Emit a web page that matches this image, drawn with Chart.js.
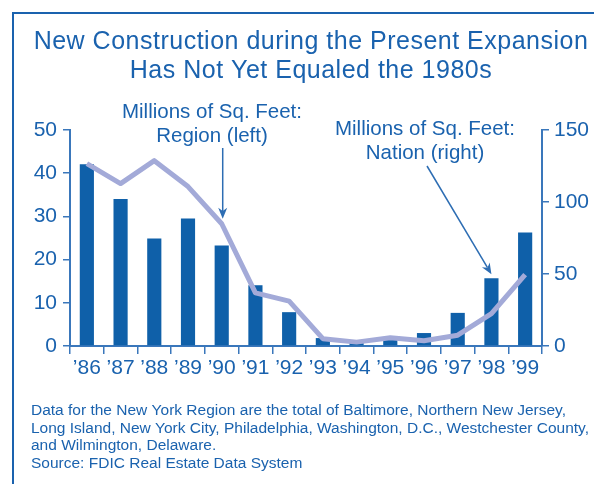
<!DOCTYPE html>
<html><head><meta charset="utf-8">
<script src="https://cdn.jsdelivr.net/npm/chart.js@4.4.1/dist/chart.umd.min.js"></script>
<style>html,body{margin:0;padding:0;background:#fff}#wrap{width:594px;height:484px;position:relative}</style>
</head><body><div id="wrap"><canvas id="c" width="594" height="484"></canvas></div>
<script>
const years = ["\u201986","\u201987","\u201988","\u201989","\u201990","\u201991","\u201992","\u201993","\u201994","\u201995","\u201996","\u201997","\u201998","\u201999"];
const regionLeft = [42.2, 37.6, 42.9, 36.9, 28.3, 12.3, 10.4, 1.7, 0.9, 1.9, 1.2, 2.5, 7.5, 16.5];
const nationRight = [126.3, 102.1, 74.6, 88.5, 69.8, 42.2, 23.5, 5.5, 2.6, 4.6, 9.0, 23.0, 47.0, 78.8];
const leftTickValues = [0, 10, 20, 30, 40, 50];
const rightTickValues = [0, 50, 100, 150];
const titleLines = ["New Construction during the Present Expansion", "Has Not Yet Equaled the 1980s"];
const regionLabel = ["Millions of Sq. Feet:", "Region (left)"];
const nationLabel = ["Millions of Sq. Feet:", "Nation (right)"];
const noteLines = [
  "Data for the New York Region are the total of Baltimore, Northern New Jersey,",
  "Long Island, New York City, Philadelphia, Washington, D.C., Westchester County,",
  "and Wilmington, Delaware.",
  "Source: FDIC Real Estate Data System"
];

const FONT = '"Liberation Sans", Arial, sans-serif';
const TEXT = '#1a62ae';
const AXIS = '#3a77bb';
const BAR = '#0f60a9';
const LINE = '#a3aad8';
const ARROW = '#2d6db3';

function arrow(ctx, x1, y1, x2, y2, color) {
  const a = Math.atan2(y2 - y1, x2 - x1);
  const L = 11, W = 4.5;
  ctx.strokeStyle = color; ctx.lineWidth = 1.5;
  ctx.beginPath(); ctx.moveTo(x1, y1);
  ctx.lineTo(x2 - L * 0.7 * Math.cos(a), y2 - L * 0.7 * Math.sin(a)); ctx.stroke();
  ctx.fillStyle = color;
  ctx.beginPath(); ctx.moveTo(x2, y2);
  ctx.lineTo(x2 - L * Math.cos(a) + W * Math.sin(a), y2 - L * Math.sin(a) - W * Math.cos(a));
  ctx.lineTo(x2 - L * 0.7 * Math.cos(a), y2 - L * 0.7 * Math.sin(a));
  ctx.lineTo(x2 - L * Math.cos(a) - W * Math.sin(a), y2 - L * Math.sin(a) + W * Math.cos(a));
  ctx.closePath(); ctx.fill();
}

const deco = {
  id: 'deco',
  afterDraw(chart) {
    const ctx = chart.ctx;
    const xs = chart.scales.x, yL = chart.scales.yL, yR = chart.scales.yR;
    ctx.save();
    // frame
    ctx.strokeStyle = '#1a62ae'; ctx.lineWidth = 2;
    ctx.beginPath(); ctx.moveTo(13, 484); ctx.lineTo(13, 13); ctx.lineTo(594, 13); ctx.stroke();
    // title
    ctx.fillStyle = TEXT; ctx.textAlign = 'center'; ctx.textBaseline = 'alphabetic';
    ctx.font = '25px ' + FONT;
    ctx.letterSpacing = '0.5px';
    titleLines.forEach((t, i) => ctx.fillText(t, 311, 49 + i * 29));
    ctx.letterSpacing = '0px';
    // annotation labels
    ctx.font = '20.5px ' + FONT;
    regionLabel.forEach((t, i) => ctx.fillText(t, 212, 118 + i * 24));
    nationLabel.forEach((t, i) => ctx.fillText(t, 425, 135 + i * 23.5));
    // arrows anchored to data
    const rx = xs.getPixelForValue(4);
    arrow(ctx, rx + 1, 148, rx + 1, yL.getPixelForValue(regionLeft[4]) - 5, ARROW);
    const nx = xs.getPixelForValue(12);
    arrow(ctx, 427, 166, nx, yR.getPixelForValue(nationRight[12]) - 4, ARROW);
    // notes
    ctx.textAlign = 'left'; ctx.font = '15.5px ' + FONT; ctx.fillStyle = TEXT;
    noteLines.forEach((t, i) => ctx.fillText(t, 31, 415 + i * 17.7));
    ctx.restore();
  }
};

const tickFont = { family: FONT, size: 21 };

new Chart(document.getElementById('c'), {
  data: {
    labels: years,
    datasets: [
      { type: 'line', label: 'Region (left)', data: regionLeft, yAxisID: 'yL',
        borderColor: LINE, borderWidth: 5, pointRadius: 0, tension: 0,
        borderJoinStyle: 'round', borderCapStyle: 'butt', order: 1 },
      { type: 'bar', label: 'Nation (right)', data: nationRight, yAxisID: 'yR',
        backgroundColor: BAR, barPercentage: 0.42, categoryPercentage: 1, order: 2 }
    ]
  },
  options: {
    responsive: false, animation: false, devicePixelRatio: 1,
    layout: { padding: { top: 130, bottom: 98, left: 0, right: 0 }, autoPadding: false },
    plugins: { legend: { display: false }, tooltip: { enabled: false }, title: { display: false } },
    scales: {
      x: {
        offset: true,
        grid: { offset: true, drawOnChartArea: false, drawTicks: true, tickLength: 8, color: AXIS, lineWidth: 1.5 },
        border: { color: AXIS, width: 2 },
        ticks: { color: TEXT, font: tickFont, padding: 2, maxRotation: 0, autoSkip: false },
        afterFit: s => { s.height = 40; }
      },
      yL: {
        position: 'left', min: 0, max: 50,
        afterBuildTicks: s => { s.ticks = leftTickValues.map(v => ({ value: v })); },
        grid: { drawOnChartArea: false, tickLength: 7, color: AXIS, lineWidth: 1.5 },
        border: { color: AXIS, width: 2 },
        ticks: { color: TEXT, font: tickFont, padding: 6 },
        afterFit: s => { s.width = 70; }
      },
      yR: {
        position: 'right', min: 0, max: 150,
        afterBuildTicks: s => { s.ticks = rightTickValues.map(v => ({ value: v })); },
        grid: { drawOnChartArea: false, tickLength: 7, color: AXIS, lineWidth: 1.5 },
        border: { color: AXIS, width: 2 },
        ticks: { color: TEXT, font: tickFont, padding: 5 },
        afterFit: s => { s.width = 52; }
      }
    }
  },
  plugins: [deco]
});
</script>
</body></html>
